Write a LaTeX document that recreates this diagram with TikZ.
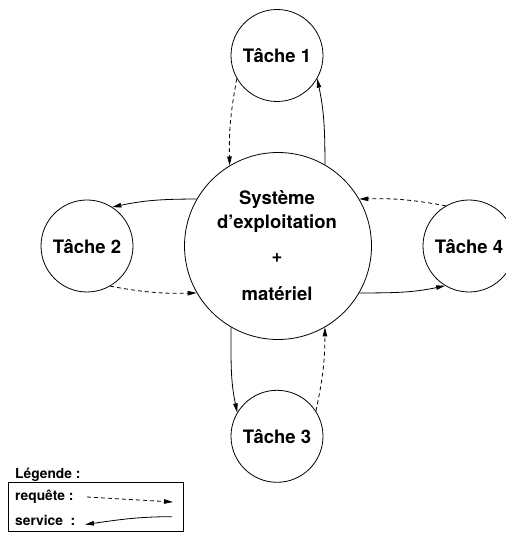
\documentclass[tikz,border=0pt]{standalone}
\usepackage{fontspec}
\setmainfont{TeX Gyre Heros}
\usetikzlibrary{arrows.meta}
\begin{document}
\begin{tikzpicture}[x=1pt,y=1pt,
  every node/.style={font=\fontsize{18.5}{22}\selectfont\bfseries},
  task/.style={draw, circle, line width=0.8pt, minimum size=92pt, inner sep=0pt, text height=14.4pt, text depth=0pt},
  sys/.style={draw, circle, line width=0.8pt, minimum size=187pt, inner sep=0pt},
  lbl/.style={anchor=base, inner sep=0pt},
  tip/.style={-{Triangle[length=9pt,width=4.5pt]}},
  req/.style={line width=0.8pt, dash pattern=on 4pt off 3pt, tip},
  srv/.style={line width=0.8pt, tip},
  legtext/.style={anchor=base west, inner sep=0pt, font=\fontsize{13.8}{16}\selectfont\bfseries},
  legbox/.style={draw, line width=0.8pt},
]
\useasboundingbox (0,0) rectangle (506,533);
% central circle
\node[sys] (os) at (278,287) {};
\node[lbl] (os1) at (277,328) {Système};
\node[lbl] (os2) at (277,304) {d’exploitation};
\node[inner sep=0pt] (os3) at (277,275) {+};
\node[lbl] (os4) at (277,232) {matériel};
% tasks
\node[task] (t1) at (277,477.5) {Tâche 1};
\node[task] (t2) at (87,287) {Tâche 2};
\node[task] (t3) at (277,96.7) {Tâche 3};
\node[task] (t4) at (469,287) {Tâche 4};
% requests (dashed)
\draw[req] (t1.210) to[bend right=6] (os.121);
\draw[req] (t2.300) to[bend right=6] (os.210);
\draw[req] (t3.33) to[bend right=6] (os.300);
\draw[req] (t4.120) to[bend right=6] (os.30);
% services (solid)
\draw[srv] (os.60) to[out=90, in=-78] (t1.330);
\draw[srv] (os.150) to[out=180, in=12] (t2.57);
\draw[srv] (os.240) to[out=270, in=102] (t3.149);
\draw[srv] (os.330) to[out=0, in=192] (t4.239);
% legend
\node[legtext] (leg) at (15,54.7) {Légende :};
\node[legbox, minimum width=175pt, minimum height=49pt, inner sep=0pt, anchor=south west] (box) at (8,1.3) {};
\node[legtext] (lreq) at (15,32.3) {requête :};
\node[legtext] (lsrv) at (15,8) {service \ :};
\coordinate (rq1) at (87,36);
\coordinate (rq2) at (173,31);
\coordinate (sv1) at (172,16.3);
\coordinate (sv2) at (85,8.5);
\draw[req] (rq1) -- (rq2);
\draw[srv] (sv1) to[out=180, in=8] (sv2);
\end{tikzpicture}
\end{document}
